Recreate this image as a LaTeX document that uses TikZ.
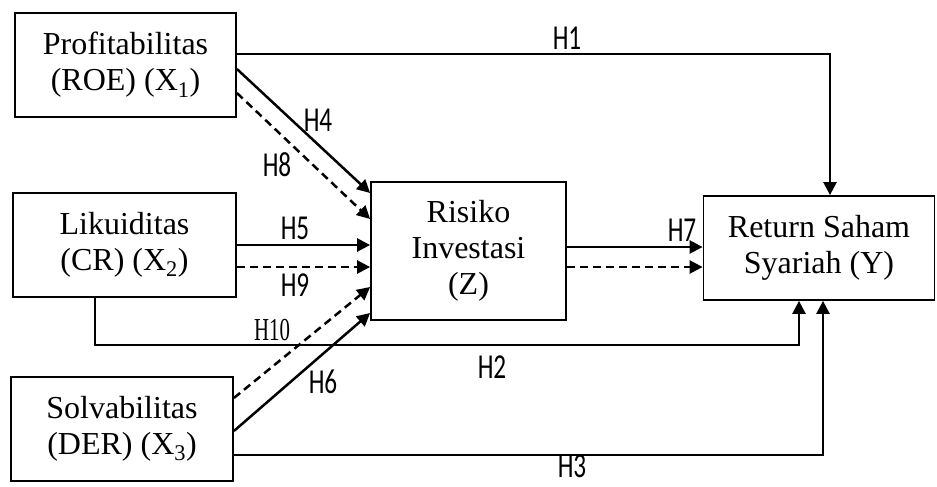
\documentclass[tikz,border=0pt]{standalone}
\usepackage{fontspec}
\setmainfont{Liberation Serif}
\newfontfamily\labfont[FakeStretch=0.72]{Carlito}
\newfontfamily\labserif[FakeStretch=0.65]{Liberation Serif}
\usetikzlibrary{arrows.meta}
\begin{document}
\begin{tikzpicture}[x=1pt,y=-1pt,
  box/.style={draw,line width=1.8pt,inner sep=0pt,align=center,
    font=\fontsize{32}{36}\selectfont},
  conn/.style={line width=2.5pt,-{Triangle[length=13pt,width=13pt]}},
  dconn/.style={conn,dash pattern=on 8pt off 5pt},
  lab/.style={font=\labfont\fontsize{35}{36}\selectfont,inner sep=0pt},
  labs/.style={font=\labserif\fontsize{32}{36}\selectfont,inner sep=0pt}]
\useasboundingbox (0,0) rectangle (937,487);
% boxes
\node[box,minimum width=221pt,minimum height=104pt] (X1) at (125.5,65) {Profitabilitas\\(ROE) (X\textsubscript{1})};
\node[box,minimum width=223pt,minimum height=104pt] (X2) at (124.5,245) {Likuiditas\\(CR) (X\textsubscript{2})};
\node[box,minimum width=222pt,minimum height=104pt] (X3) at (122,429) {Solvabilitas\\(DER) (X\textsubscript{3})};
\node[box,minimum width=195pt,minimum height=138pt] (Z) at (468.5,251) {Risiko\\Investasi\\(Z)};
\node[box,minimum width=231pt,minimum height=104pt] (Y) at (819,248) {Return Saham\\Syariah (Y)};
% connectors
\draw[conn] (X1.east |- 0,54) -| (Y.north -| 830,0);
\draw[conn] (X1.east |- 0,69) -- (Z.west |- 0,193);
\draw[dconn] (X1.east |- 0,93) -- (Z.west |- 0,219);
\draw[conn] (X2.east |- 0,245) -- (Z.west |- 0,245);
\draw[dconn] (X2.east |- 0,267) -- (Z.west |- 0,267);
\draw[dconn] (X3.east |- 0,398) -- (Z.west |- 0,287);
\draw[conn] (X3.east |- 0,431) -- (Z.west |- 0,313);
\coordinate (h2b) at (799,345);
\draw[conn] (X2.south -| 95,0) |- (h2b) -- (Y.south -| h2b);
\draw[conn] (X3.east |- 0,455) -| (Y.south -| 823,0);
\draw[conn] (Z.east |- 0,247) -- (Y.west |- 0,247);
\draw[dconn] (Z.east |- 0,267) -- (Y.west |- 0,267);
% labels
\node[lab] (l1) at (567,38) {H1};
\node[lab] (l4) at (318,120) {H4};
\node[lab] (l8) at (277,165) {H8};
\node[lab] (l5) at (295,228) {H5};
\node[lab] (l9) at (295,285) {H9};
\node[labs] (l10) at (272,330) {H10};
\node[lab] (l6) at (323,382) {H6};
\node[lab] (l2) at (492,367) {H2};
\node[lab] (l3) at (572,466) {H3};
\node[lab] (l7) at (682,230) {H7};
\end{tikzpicture}
\end{document}
